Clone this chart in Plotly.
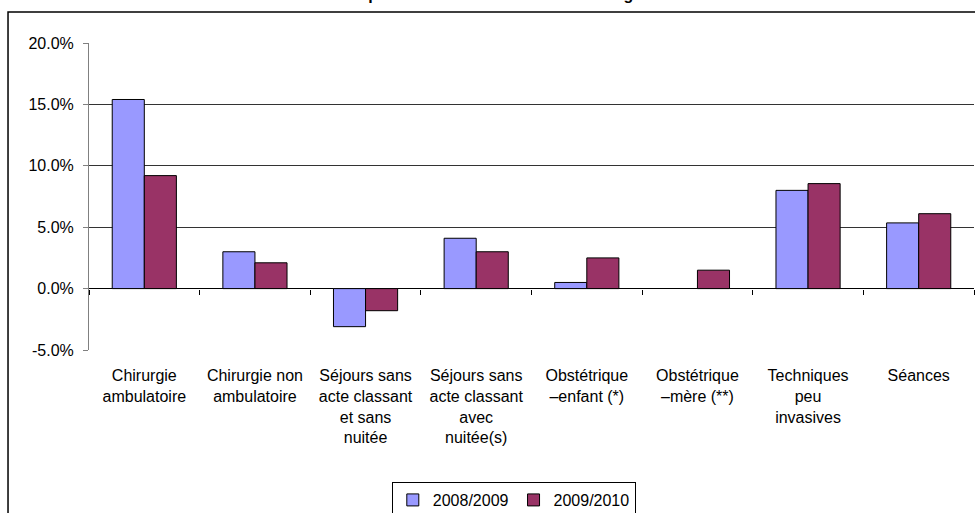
import plotly.graph_objects as go

categories = ["Chirurgie ambulatoire", "Chirurgie non ambulatoire",
              "Séjours sans acte classant et sans nuitée",
              "Séjours sans acte classant avec nuitée(s)",
              "Obstétrique –enfant (*)", "Obstétrique –mère (**)",
              "Techniques peu invasives", "Séances"]
tick_labels = ["Chirurgie<br>ambulatoire", "Chirurgie non<br>ambulatoire",
               "Séjours sans<br>acte classant<br>et sans<br>nuitée",
               "Séjours sans<br>acte classant<br>avec<br>nuitée(s)",
               "Obstétrique<br>–enfant (*)", "Obstétrique<br>–mère (**)",
               "Techniques<br>peu<br>invasives", "Séances"]
series_names = ["2008/2009", "2009/2010"]
values_0809 = [15.4, 3.0, -3.1, 4.1, 0.5, None, 8.0, 5.35]
values_0910 = [9.2, 2.1, -1.8, 3.0, 2.5, 1.5, 8.55, 6.1]
y_ticks = [-5, 0, 5, 10, 15, 20]
title_text = "Évolution de l'activité par mode de traitement et de catégorie"

colors = ["#9999FF", "#993366"]
FONT = "Liberation Sans, Arial, sans-serif"

fig = go.Figure()
for name, vals, col in zip(series_names, [values_0809, values_0910], colors):
    fig.add_trace(go.Bar(x=categories, y=vals, name=name,
                         marker=dict(color=col, line=dict(color="black", width=1))))

# invisible helper trace so the zero-crossing category axis (tick marks) is drawn
fig.add_trace(go.Scatter(x=categories, y=[0] * len(categories), xaxis="x2",
                         mode="markers", marker=dict(opacity=0), showlegend=False,
                         hoverinfo="skip"))

fig.update_layout(
    width=975, height=513,
    margin=dict(l=89, r=1, t=43, b=163, autoexpand=False),
    paper_bgcolor="white", plot_bgcolor="white",
    font=dict(family=FONT, size=16, color="black"),
    barmode="group", bargap=0.42, bargroupgap=0,
    xaxis=dict(type="category", categoryarray=categories, categoryorder="array",
               range=[-0.5, 7.5], tickvals=categories, ticktext=tick_labels,
               ticks="", showline=False, showgrid=False, ticklabelstandoff=14,
               tickfont=dict(size=16, family=FONT)),
    xaxis2=dict(type="category", categoryarray=categories, categoryorder="array",
                range=[-0.5, 7.5], overlaying="x", anchor="free", position=0.2,
                side="bottom", tickson="boundaries", ticks="outside", ticklen=5,
                tickcolor="black", showticklabels=False, showline=False,
                showgrid=False, zeroline=False),
    yaxis=dict(range=[-5, 20], tickvals=y_ticks, ticktext=[f"{v:.1f}%" for v in y_ticks],
               showgrid=True, gridcolor="#333333", gridwidth=1,
               zeroline=True, zerolinecolor="black", zerolinewidth=1,
               showline=True, linecolor="#808080", linewidth=1,
               ticks="outside", ticklen=5, tickcolor="#808080",
               ticklabelstandoff=6, tickfont=dict(size=16, family=FONT)),
    legend=dict(orientation="h", x=0.48, xanchor="center", y=-0.43, yanchor="top",
                bordercolor="black", borderwidth=1, font=dict(size=16, family=FONT),
                itemwidth=30, tracegroupgap=0),
    annotations=[dict(text="<b>" + title_text + "</b>", xref="paper", yref="paper",
                      x=0.387, y=1 + 43 / 307, xanchor="center", yanchor="middle",
                      yshift=6, showarrow=False, font=dict(size=16, family=FONT))],
    shapes=[dict(type="rect", xref="paper", yref="paper",
                 x0=-0.0915, x1=1.2, y0=-0.8, y1=1.101,
                 line=dict(color="black", width=1.5), layer="below")],
)

fig.write_html("out.html", config={"displayModeBar": False},
               post_script="document.body.style.margin='0';document.body.style.overflow='hidden';")
